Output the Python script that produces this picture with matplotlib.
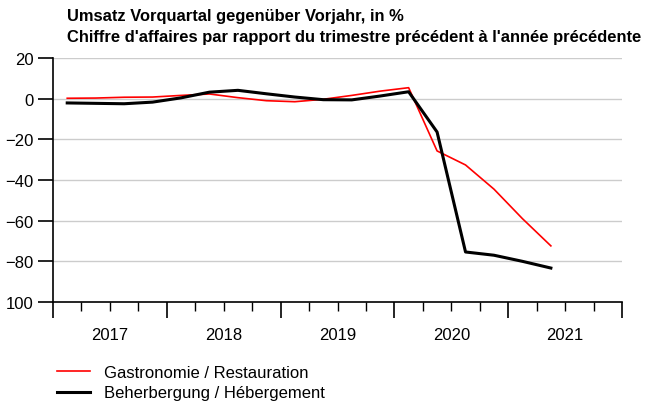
import matplotlib
matplotlib.use("Agg")
import matplotlib.pyplot as plt
import pandas as pd
from matplotlib.ticker import MultipleLocator

plt.rcParams['font.family'] = ['Liberation Sans', 'DejaVu Sans']

# quarterly change vs previous year, in %
quarters = pd.period_range('2017Q1', '2021Q2', freq='Q')
gastro = [0.2, 0.3, 0.7, 0.8, 1.6, 2.3, 0.5, -1.0, -1.5, -0.3, 1.6, 3.7, 5.4,
          -25.7, -32.6, -44.5, -59.0, -72.4]
beherb = [-2.1, -2.3, -2.5, -1.7, 0.4, 3.2, 4.1, 2.4, 0.8, -0.5, -0.6, 1.3, 3.4,
          -16.4, -75.4, -77.0, -80.0, -83.3]
years = [2017, 2018, 2019, 2020, 2021]
ytick_vals = [20, 0, -20, -40, -60, -80, -100]
ytick_labels = ['20', '0', '\u221220', '\u221240', '\u221260', '\u221280', '100']

x = [q.year + (q.quarter - 0.5) / 4 for q in quarters]

fig = plt.figure(figsize=(6.46, 4.06), dpi=100)
ax = fig.add_axes([53 / 646, 1 - 303 / 406, 569 / 646, 244 / 406])

ax.plot(x, gastro, color='#ff0000', lw=1.2, label='Gastronomie / Restauration')
ax.plot(x, beherb, color='black', lw=2.2, label='Beherbergung / Hébergement')

ax.set_xlim(2017, 2022)
ax.set_ylim(-100, 20)
ax.set_yticks(ytick_vals)
ax.set_yticklabels(ytick_labels)
for v in ytick_vals[:-1]:
    ax.axhline(v, color='#cccccc', lw=1, zorder=0)

# year boundaries as major ticks, quarters as minor, labels in between
ax.set_xticks(range(2017, 2023))
ax.set_xticklabels([])
ax.xaxis.set_minor_locator(MultipleLocator(0.25))
ax.tick_params(axis='x', which='major', length=11.3, width=1.2, color='black')
ax.tick_params(axis='x', which='minor', length=6.5, width=1, color='black')
for yr in years:
    ax.text(yr + 0.5, -37.5 / 244, str(yr), transform=ax.get_xaxis_transform(),
            ha='center', va='baseline', fontsize=12)

ax.tick_params(axis='y', length=10.8, width=1.2, labelsize=12, pad=3.4)
for s in ['top', 'right']:
    ax.spines[s].set_visible(False)
ax.spines['left'].set_linewidth(1.2)
ax.spines['bottom'].set_linewidth(1.2)

fig.text(67 / 646, 1 - 21 / 406, 'Umsatz Vorquartal gegenüber Vorjahr, in %',
         fontsize=11.9, fontweight='bold', va='baseline')
fig.text(67 / 646, 1 - 42 / 406,
         "Chiffre d'affaires par rapport du trimestre précédent à l'année précédente",
         fontsize=11.9, fontweight='bold', va='baseline')

fig.legend(loc='upper left', bbox_to_anchor=(57 / 646, 1 - 366 / 406),
           frameon=False, fontsize=12, handlelength=2.0, handletextpad=0.84,
           labelspacing=0.32, borderaxespad=0, borderpad=0)

fig.savefig('out.png', dpi=100)
